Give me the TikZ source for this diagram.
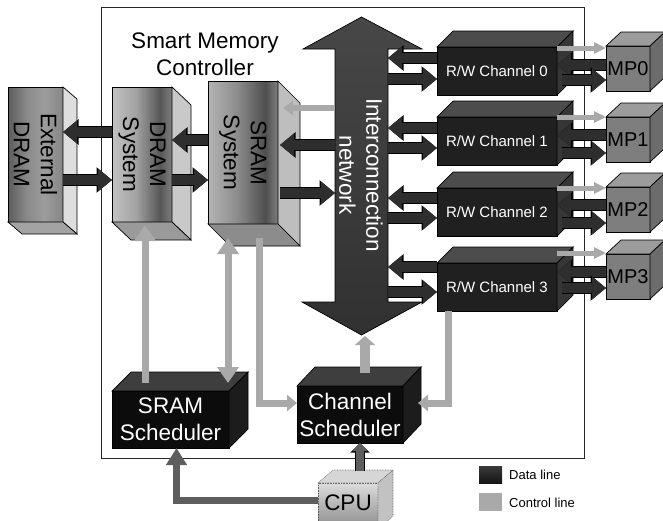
\documentclass[tikz,border=0pt]{standalone}
\usepackage{fontspec}
\setmainfont{Liberation Sans}
\usetikzlibrary{arrows.meta,calc}

% line colours
\definecolor{datafill}{HTML}{2E2E2E}
\definecolor{ctrlfill}{HTML}{A9A9A9}
\definecolor{cpufill}{HTML}{5E5E5E}
% interconnect
\definecolor{netA}{HTML}{474747}
\definecolor{netB}{HTML}{313131}
% channels, processors, schedulers
\definecolor{chfront}{HTML}{202020}
\definecolor{chtop}{HTML}{4C4C4C}
\definecolor{chside}{HTML}{363636}
\definecolor{mpfront}{HTML}{7E7E7E}
\definecolor{mptop}{HTML}{9C9C9C}
\definecolor{mpside}{HTML}{6C6C6C}
\definecolor{schfront}{HTML}{0C0C0C}
\definecolor{schtop}{HTML}{3E3E3E}
\definecolor{schside}{HTML}{1C1C1C}
% memory blocks
\definecolor{extbot}{HTML}{A3A3A3}
\definecolor{extside}{HTML}{DEDEDE}
\definecolor{drambot}{HTML}{9A9A9A}
\definecolor{dramside}{HTML}{C9C9C9}
\definecolor{srambot}{HTML}{8C8C8C}
\definecolor{sramside}{HTML}{BEBEBE}
% cpu
\definecolor{cputop}{HTML}{D6D6D6}
\definecolor{cpuside}{HTML}{C2C2C2}
\definecolor{cpuhi}{HTML}{DCDCDC}
\definecolor{cpulo}{HTML}{8A8A8A}
% legend
\definecolor{legA}{HTML}{3A3A3A}
\definecolor{legB}{HTML}{151515}
% face shadings of the memory blocks
\definecolor{ea}{HTML}{5C5C5C}\definecolor{eb}{HTML}{8A8A8A}\definecolor{ec}{HTML}{9C9C9C}\definecolor{ed}{HTML}{868686}
\definecolor{da}{HTML}{C2C2C2}\definecolor{db}{HTML}{A2A2A2}\definecolor{dc}{HTML}{575757}\definecolor{dd}{HTML}{7E7E7E}
\definecolor{sa}{HTML}{B4B4B4}\definecolor{sb}{HTML}{8E8E8E}\definecolor{sc}{HTML}{4F4F4F}\definecolor{sd}{HTML}{808080}

\pgfdeclarehorizontalshading{extface}{100bp}{color(0bp)=(ea); color(25bp)=(ea); color(42bp)=(eb); color(58bp)=(ec); color(75bp)=(ed); color(100bp)=(ed)}
\pgfdeclarehorizontalshading{dramface}{100bp}{color(0bp)=(da); color(25bp)=(da); color(45bp)=(db); color(65bp)=(dc); color(75bp)=(dd); color(100bp)=(dd)}
\pgfdeclarehorizontalshading{sramface}{100bp}{color(0bp)=(sa); color(25bp)=(sa); color(45bp)=(sb); color(66bp)=(sc); color(75bp)=(sd); color(100bp)=(sd)}

\tikzset{
  edge/.style={draw=black, line width=0.7pt, line join=miter},
  face/.style={edge, inner sep=0pt, outer sep=0pt, anchor=north west},
  lbl/.style={font=\fontsize{22.5}{27}\selectfont, align=center, inner sep=0pt},
  chlbl/.style={font=\fontsize{15}{18}\selectfont, text=white, inner sep=0pt},
  mplbl/.style={font=\fontsize{20}{24}\selectfont, inner sep=0pt},
  leglbl/.style={font=\fontsize{13}{15}\selectfont, inner sep=0pt, anchor=west},
  dataarrow/.style={draw=datafill, line width=10pt, -{Triangle[width=22pt,length=14pt]},
    preaction={draw=black, line width=11.4pt, -{Triangle[width=24.5pt,length=15.5pt]}}},
  ctrlbig/.style={draw=ctrlfill, line width=7pt, -{Triangle[width=21pt,length=16pt]}},
  ctrlsmall/.style={draw=ctrlfill, line width=5pt, -{Triangle[width=11pt,length=12pt]}},
  ctrlelbow/.style={draw=ctrlfill, line width=7pt, line join=miter, -{Triangle[width=16pt,length=10pt]}},
  ctrlnet/.style={draw=ctrlfill, line width=6pt, -{Triangle[width=14pt,length=10pt]}},
  ctrlup/.style={draw=ctrlfill, line width=10pt, -{Triangle[width=20pt,length=9pt]}},
  cpuarrow/.style={draw=cpufill, line width=7pt, line join=miter, -{Triangle[width=20pt,length=17pt]}},
  cpuup/.style={draw=cpufill, line width=8pt, -{Triangle[width=16pt,length=8pt]},
    preaction={draw=black, line width=9.4pt, -{Triangle[width=18.5pt,length=9.5pt]}}},
}

% box whose depth goes up and to the right: top and right faces
\newcommand\drawcubeup[5]{%
  \filldraw[edge, fill=#4] (#1.north west) -- ++(#2,-#3) -- ($(#1.north east)+(#2,-#3)$) -- (#1.north east) -- cycle;
  \filldraw[edge, fill=#5] (#1.north east) -- ++(#2,-#3) -- ($(#1.south east)+(#2,-#3)$) -- (#1.south east) -- cycle;}
% box whose depth goes down and to the right: right and bottom faces
\newcommand\drawcubedown[5]{%
  \filldraw[edge, fill=#5] (#1.north east) -- ++(#2,#3) -- ($(#1.south east)+(#2,#3)$) -- (#1.south east) -- cycle;
  \filldraw[edge, fill=#4] (#1.south west) -- ++(#2,#3) -- ($(#1.south east)+(#2,#3)$) -- (#1.south east) -- cycle;}

\begin{document}
\begin{tikzpicture}[x=1pt, y=-1pt]
\useasboundingbox (0,0) rectangle (663,520);

% controller frame
\node[draw=black!85, line width=0.8pt, inner sep=0pt, outer sep=0pt, anchor=north west,
      minimum width=483pt, minimum height=451pt] (smc) at (101,7) {};
\node[lbl] (smctitle) at (205,54) {Smart Memory\\Controller};

% interconnection network (double block arrow)
\node[inner sep=0pt, outer sep=0pt, anchor=north west, minimum width=53pt, minimum height=253pt] (net) at (335,49) {};
\draw[edge, top color=netA, bottom color=netB]
  (net.north west) -- ++(-32,0) -- ($(net.north)+(0,-32)$) -- ($(net.north east)+(34,0)$)
  -- (net.north east) -- (net.south east) -- ++(34,0) -- ($(net.south)+(0,33)$)
  -- ($(net.south west)+(-33,0)$) -- (net.south west) -- cycle;
\node[lbl, text=white, rotate=-90] (netlbl) at (361,175) {Interconnection\\network};

% memory blocks
\node[face, shade, shading=extface, minimum width=55pt, minimum height=135pt] (ext) at (8,87) {};
\drawcubedown{ext}{14}{12}{extbot}{extside}
\node[lbl, rotate=-90] (extlbl) at (ext.center) {External\\DRAM};

\node[face, shade, shading=dramface, minimum width=60pt, minimum height=135pt] (dram) at (112,87) {};
\drawcubedown{dram}{19}{18}{drambot}{dramside}
\node[lbl, rotate=-90] (dramlbl) at (dram.center) {DRAM\\System};

\node[face, shade, shading=sramface, minimum width=70pt, minimum height=143pt] (sram) at (208,81) {};
\drawcubedown{sram}{22}{22}{srambot}{sramside}
\node[lbl, rotate=-90] (sramlbl) at (sram.center) {SRAM\\System};

% read/write channels and memory ports
\foreach \i/\y in {0/47,1/117,2/188,3/263} {
  \node[face, fill=chfront, minimum width=120pt, minimum height=48pt] (ch\i) at (437,\y) {};
  \drawcubeup{ch\i}{16}{16}{chtop}{chside}
  \node[chlbl] (chlbl\i) at (ch\i.center) {R/W Channel \i};
}
\foreach \i/\y in {0/46,1/117,2/187,3/254} {
  \node[face, fill=mpfront, minimum width=44pt, minimum height=45pt] (mp\i) at (606,\y) {};
  \drawcubeup{mp\i}{15}{14}{mptop}{mpside}
  \node[mplbl] (mplbl\i) at (mp\i.center) {MP\i};
}

% schedulers
\node[face, fill=schfront, minimum width=117pt, minimum height=57pt] (sramsch) at (112,391) {};
\drawcubeup{sramsch}{19}{19}{schtop}{schside}
\node[lbl, text=white] (sramschlbl) at (sramsch.center) {SRAM\\Scheduler};

\node[face, fill=schfront, minimum width=106pt, minimum height=57pt] (chsch) at (297,386) {};
\drawcubeup{chsch}{18}{19}{schtop}{schside}
\node[lbl, text=white] (chschlbl) at (chsch.center) {Channel\\Scheduler};

% cpu
\node[draw=black!65, densely dotted, line width=0.6pt, inner sep=0pt, outer sep=0pt, anchor=north west,
      top color=cpuhi, bottom color=cpulo, minimum width=60pt, minimum height=46pt] (cpu) at (318,483) {};
\filldraw[draw=black!65, densely dotted, line width=0.6pt, fill=cputop]
  (cpu.north west) -- ++(15,-13) -- ($(cpu.north east)+(15,-13)$) -- (cpu.north east) -- cycle;
\filldraw[draw=black!65, densely dotted, line width=0.6pt, fill=cpuside]
  (cpu.north east) -- ++(15,-13) -- ($(cpu.south east)+(15,-13)$) -- (cpu.south east) -- cycle;
\node[lbl] (cpulbl) at ($(cpu.center)+(0,-3)$) {CPU};

% data paths between memory blocks
\coordinate (e1) at ($(dram.north west)+(0,45)$);
\draw[dataarrow] (e1) -- (e1 -| ext.east);
\coordinate (e2) at ($(ext.north east)+(0,93)$);
\draw[dataarrow] (e2) -- (e2 -| dram.west);
\coordinate (d1) at ($(sram.north west)+(0,59)$);
\draw[dataarrow] (d1) -- (d1 -| dram.east);
\coordinate (d2) at ($(dram.north east)+(0,93)$);
\draw[dataarrow] (d2) -- (d2 -| sram.west);

% SRAM system and interconnect
\coordinate (s1) at ($(net.north west)+(0,59)$);
\draw[ctrlnet] (s1) -- ($(s1 -| sram.east)+(5,0)$);
\coordinate (s2) at ($(net.north west)+(0,96)$);
\draw[dataarrow] (s2) -- ($(s2 -| sram.east)+(2,0)$);
\coordinate (s3) at ($(sram.north east)+(2,112)$);
\draw[dataarrow] (s3) -- (s3 -| net.west);

% channels: interconnect side and memory port side
\foreach \i/\a/\b/\g/\l/\r in {0/11/32/1/18/33, 1/11/31/0/18/36, 2/10/30/0/17/35, 3/4/29/-10/9/25} {
  \coordinate (na\i) at ($(ch\i.north west)+(0,\a)$);
  \draw[dataarrow] (na\i) -- (na\i -| net.east);
  \coordinate (nb\i) at ($(ch\i.north west)+(0,\b)$);
  \draw[dataarrow] (nb\i -| net.east) -- (nb\i);
  \coordinate (pg\i) at ($(ch\i.north east)+(0,\g)$);
  \draw[ctrlsmall] (pg\i) -- (pg\i -| mp\i.west);
  \coordinate (pl\i) at ($(ch\i.north east)+(0,\l)$);
  \draw[dataarrow] (pl\i -| mp\i.west) -- (pl\i);
  \coordinate (pr\i) at ($(ch\i.north east)+(5,\r)$);
  \draw[dataarrow] (pr\i) -- (pr\i -| mp\i.west);
}

% control paths
\draw[ctrlbig] ($(sramsch.north west)+(33,-8)$) -- ($(dram.south)+(3,3)$);
\draw[ctrlbig, {Triangle[width=21pt,length=16pt]}-{Triangle[width=21pt,length=16pt]}]
  ($(sram.south)+(-15,14)$) -- ($(sramsch.north east)+(-1,-8)$);
\draw[ctrlelbow] ($(sram.south)+(16,14)$) |- ($(chsch.north west)+(0,17)$);
\draw[ctrlup] ($(chsch.north)+(15,-13)$) -- ($(net.south)+(3.5,34)$);
\draw[ctrlelbow] ($(ch3.south west)+(11,0)$) |- ($(chsch.north east)+(15,17)$);

% cpu links
\draw[cpuarrow] ($(cpu.north west)+(0,17)$) -| ($(sramsch.south)+(6,0)$);
\draw[cpuup] ($(cpu.north)+(12,-12)$) -- ($(chsch.south)+(10,0)$);

% legend
\node[inner sep=0pt, outer sep=0pt, anchor=north west, minimum width=23pt, minimum height=17pt,
      top color=legA, bottom color=legB] (legdata) at (479,466) {};
\node[leglbl] (legdatalbl) at ($(legdata.east)+(7,0)$) {Data line};
\node[inner sep=0pt, outer sep=0pt, anchor=north west, minimum width=23pt, minimum height=18pt,
      fill=ctrlfill] (legctrl) at (479,493) {};
\node[leglbl] (legctrllbl) at ($(legctrl.east)+(7,1)$) {Control line};
\end{tikzpicture}
\end{document}
